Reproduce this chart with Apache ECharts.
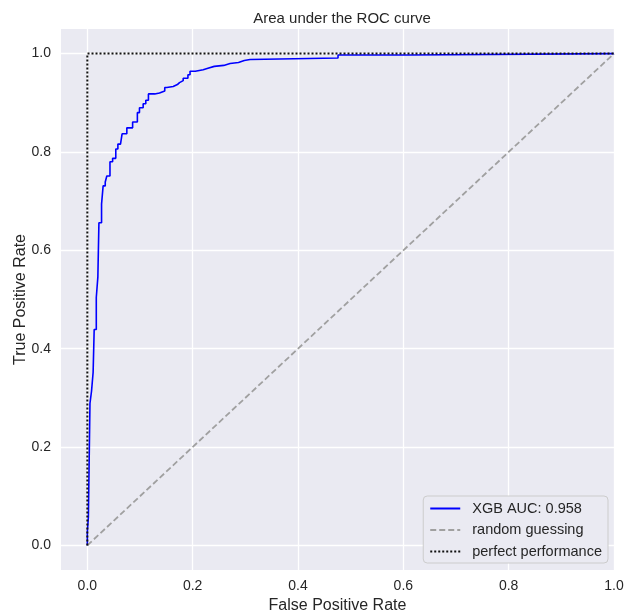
<!DOCTYPE html>
<html>
<head>
<meta charset="utf-8">
<script src="https://cdn.jsdelivr.net/npm/echarts@6/dist/echarts.min.js"></script>
<style>
html,body{margin:0;padding:0;background:#fff;}
#chart{width:627px;height:610px;}
</style>
</head>
<body>
<div id="chart"></div>
<script>
// ROC curve (XGB): false positive rate where each step happens, and true positive rate reached
const rocFpr = [0, 0, 0.002, 0.005, 0.008, 0.011, 0.013, 0.017, 0.020, 0.022, 0.027,
  0.030, 0.034, 0.037, 0.043, 0.048, 0.054, 0.058, 0.063, 0.066, 0.075,
  0.086, 0.095, 0.099, 0.106, 0.111, 0.116, 0.128, 0.137, 0.147, 0.151,
  0.163, 0.171, 0.175, 0.182, 0.191, 0.195, 0.205, 0.220, 0.229, 0.241,
  0.259, 0.271, 0.287, 0.298, 0.309, 0.476, 0.610, 1.0];
const rocTpr = [0, 0.027, 0.058, 0.289, 0.314, 0.352, 0.439, 0.504, 0.546, 0.656, 0.694,
  0.731, 0.739, 0.751, 0.780, 0.787, 0.806, 0.816, 0.820, 0.837, 0.849,
  0.861, 0.880, 0.890, 0.898, 0.905, 0.918, 0.920, 0.924, 0.931, 0.933,
  0.937, 0.941, 0.945, 0.950, 0.957, 0.964, 0.967, 0.970, 0.974, 0.976,
  0.980, 0.982, 0.986, 0.988, 0.991, 0.997, 1.0, 1.0];
const randomX = [0, 1];
const randomY = [0, 1];
const perfectX = [0, 0, 1];
const perfectY = [0, 1, 1];
const xTicks = [0, 0.2, 0.4, 0.6, 0.8, 1.0];
const yTicks = [0, 0.2, 0.4, 0.6, 0.8, 1.0];
const seriesNames = ['XGB AUC: 0.958', 'random guessing', 'perfect performance'];

const zip = (a, b) => a.map((v, i) => [v, b[i]]);
const FONT = 'Liberation Sans, Arial, sans-serif';
const TXT = '#262626';

const chart = echarts.init(document.getElementById('chart'), null, {renderer: 'canvas'});
chart.setOption({
  animation: false,
  backgroundColor: '#ffffff',
  title: {
    text: 'Area under the ROC curve',
    left: 337, top: 6, textAlign: 'center',
    textStyle: {fontFamily: FONT, fontSize: 15, fontWeight: 'normal', color: TXT}
  },
  grid: {
    left: 61, right: 13, top: 29, bottom: 40,
    outerBoundsMode: 'none', containLabel: false,
    show: true, backgroundColor: '#EAEAF2', borderWidth: 0
  },
  xAxis: {
    type: 'value', min: -0.05, max: 1.0,
    name: 'False Positive Rate', nameLocation: 'middle', nameGap: 23,
    nameTextStyle: {fontFamily: FONT, fontSize: 16, color: TXT},
    axisLine: {show: false},
    axisTick: {show: false, customValues: xTicks},
    axisLabel: {customValues: xTicks, fontFamily: FONT, fontSize: 14, color: TXT, margin: 9,
      formatter: v => v.toFixed(1)},
    splitLine: {show: true, lineStyle: {color: '#ffffff', width: 1.3}}
  },
  yAxis: {
    type: 'value', min: -0.05, max: 1.05,
    name: 'True Positive Rate', nameLocation: 'middle', nameGap: 32,
    nameMoveOverlap: false,
    nameTextStyle: {fontFamily: FONT, fontSize: 16, color: TXT},
    axisLine: {show: false},
    axisTick: {show: false, customValues: yTicks},
    axisLabel: {customValues: yTicks, fontFamily: FONT, fontSize: 14, color: TXT, margin: 10,
      formatter: v => v.toFixed(1)},
    splitLine: {show: true, lineStyle: {color: '#ffffff', width: 1.3}}
  },
  legend: {
    data: seriesNames,
    orient: 'vertical', right: 19, bottom: 47,
    itemWidth: 30, itemHeight: 12, itemGap: 6.5,
    padding: [5, 6, 4, 6],
    backgroundColor: '#EAEAF2', borderColor: '#cccccc', borderWidth: 1, borderRadius: 4,
    itemStyle: {opacity: 0, borderWidth: 0},
    textStyle: {fontFamily: FONT, fontSize: 14.5, color: TXT, padding: [0, 0, 0, 7]}
  },
  series: [
    {
      name: seriesNames[0], type: 'line', data: zip(rocFpr, rocTpr), step: 'end',
      showSymbol: false, symbol: 'none', z: 2,
      lineStyle: {color: '#0000ff', width: 1.6},
      itemStyle: {color: '#0000ff'}
    },
    {
      name: seriesNames[1], type: 'line', data: zip(randomX, randomY),
      showSymbol: false, symbol: 'none', z: 3,
      lineStyle: {color: '#a0a0a0', width: 1.8, type: [6, 3]},
      itemStyle: {color: '#a0a0a0'}
    },
    {
      name: seriesNames[2], type: 'line', data: zip(perfectX, perfectY),
      showSymbol: false, symbol: 'none', z: 4,
      lineStyle: {color: '#111111', width: 2, type: [2, 2]},
      itemStyle: {color: '#111111'}
    }
  ]
});
</script>
</body>
</html>
